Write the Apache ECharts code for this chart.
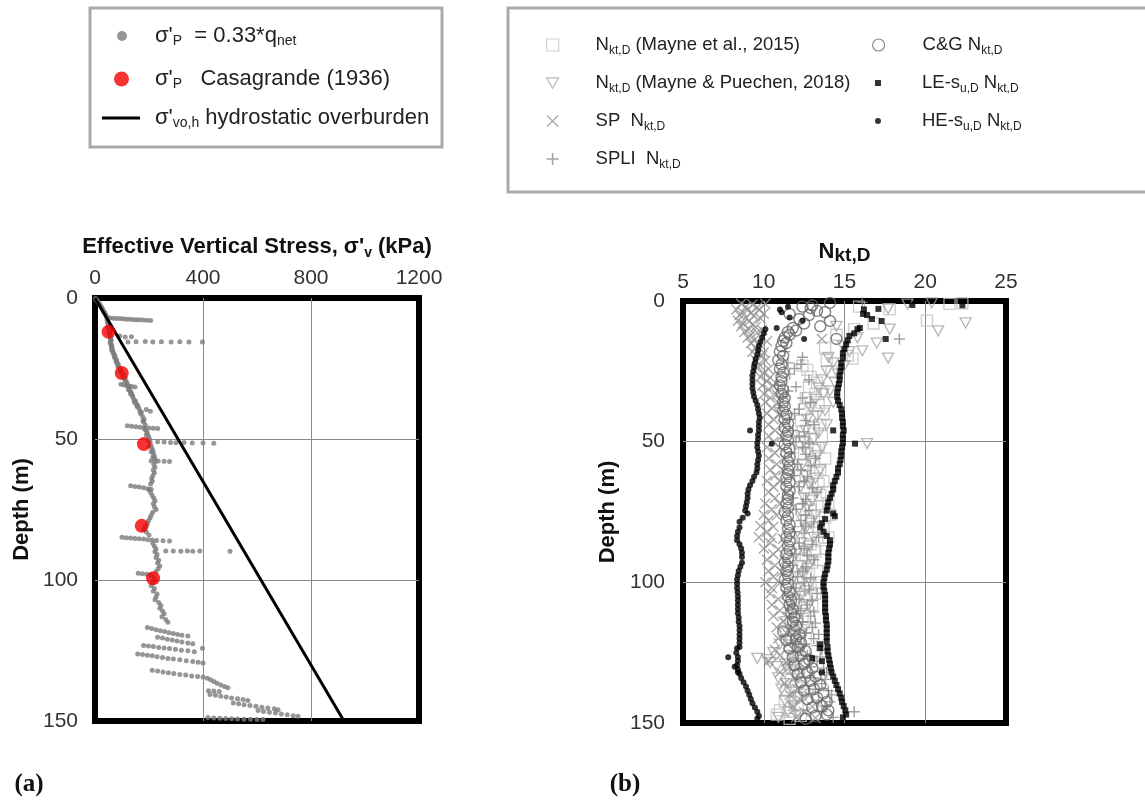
<!DOCTYPE html>
<html>
<head>
<meta charset="utf-8">
<title>Effective stress and N_kt,D profiles</title>
<script src="https://cdn.jsdelivr.net/npm/echarts@6/dist/echarts.min.js"></script>
<style>
  html, body { margin: 0; padding: 0; background: #fff; }
  #chart { width: 1145px; height: 803px; }
</style>
</head>
<body>
<div id="chart"></div>
<script>
// ---------- panel (a): effective vertical stress (kPa) vs depth (m) ----------
const stressTicks = [0, 400, 800, 1200];
const depthTicks = [0, 50, 100, 150];

// sigma'_p from 0.33*q_net : [stress kPa, depth m]
const sigmaNet = [
  [2,0.2],[5,0.6],[9,1],[12,1.5],[16,2],[19,2.5],[22,3],[25,3.5],[28,4],[31,4.5],[34,5],[37,5.5],[40,6],[42,6.5],[44,7],
  [55,7.1],[68,7.2],[80,7.3],[92,7.3],[104,7.4],[116,7.5],[128,7.5],[140,7.6],[152,7.7],[164,7.7],[178,7.8],[192,7.9],[206,8.0],
  [45,8],[47,8.5],[48,9],[50,9.5],[51,10],[49,10.5],[52,11],[54,11.5],[55,12],[53,12.5],[56,13],
  [92,13.5],[112,13.8],[135,13.7],[122,15.6],[152,15.5],[186,15.4],[214,15.6],[246,15.5],[282,15.6],[314,15.5],[348,15.6],[398,15.6],
  [58,14],[57,14.5],[60,15],[58,15.5],[56,16],[60,16.5],[62,17],[61,17.5],[64,18],[62,18.5],[66,19],[68,19.5],[70,20],[74,20.5],
  [72,21],[76,21.5],[80,22],[78,22.5],[82,23],[86,23.5],[84,24],[88,24.5],[92,25],[96,25.5],[94,26],[100,26.5],[104,27],[102,27.5],
  [108,28],[112,28.5],[110,29],[114,29.5],[118,30],
  [96,30.6],[106,30.8],[116,31],[126,31.2],[136,31.4],[148,31.6],
  [122,31],[126,32],[124,32.5],[130,33],[134,33.5],[132,34],[138,34.5],[140,35],[144,36],[150,36.5],[146,37],[152,37.5],[158,38],
  [156,38.5],[162,39],[166,40],[172,40.5],[168,41],[176,42],[182,43],[178,43.5],[190,39.5],[205,40.2],
  [120,45.3],[136,45.5],[152,45.7],[168,45.8],[184,46],[200,46.1],[216,46.2],[232,46.3],
  [180,44],[186,45],[184,46.5],[190,47],[194,48],[190,48.5],[198,49],[202,50],[196,50.5],
  [232,51],[256,51.1],[280,51.2],[300,51.3],[330,51.2],[360,51.4],[400,51.4],[440,51.5],
  [204,51],[206,52],[200,52.5],[210,53],[214,54],[208,54.5],[216,55],[220,56],[214,56.5],[222,57],[208,57.8],[234,57.8],[256,57.9],[276,58],
  [224,58],[218,59],[222,60],[216,61],[220,62],[214,63],[210,64],[212,65],[206,66],
  [132,66.6],[148,66.8],[164,67],[180,67.3],[196,67.6],[208,67.8],
  [200,68],[206,69],[212,70],[218,71],[222,72],[216,73],[220,74],[226,75],[214,76],[208,77],[204,78],[198,79],[194,80],[186,81],[180,82],[190,83],[200,84],
  [100,84.8],[116,85],[132,85.1],[148,85.3],[164,85.4],[180,85.5],[196,85.7],[212,85.8],[228,86],[252,86.1],[276,86.2],
  [262,89.7],[290,89.7],[318,89.8],[342,89.7],[362,89.8],[388,89.7],[500,89.8],
  [214,87],[220,88],[226,89],[222,90],[230,91],[226,92],[236,93],[232,94],[240,95],[234,96],[226,97],
  [160,97.6],[176,97.8],[192,98],[206,98.3],
  [218,99],[222,100],[214,101],[208,102],[220,103],[216,104],[230,105],[226,106],[222,107],[236,108],[244,109],[240,110],[250,111],[256,112],[248,113],[262,114],[270,115],
  [194,116.8],[210,117.2],[226,117.6],[242,118],[258,118.3],[274,118.7],[290,119],[306,119.3],[322,119.6],[344,119.9],
  [232,120.3],[250,120.6],[268,121],[286,121.3],[304,121.6],[322,122],[344,122.3],[362,122.6],
  [180,123.2],[198,123.4],[216,123.6],[236,123.9],[256,124.1],[276,124.3],[298,124.6],[320,124.9],[344,125.1],[368,125.4],[398,124.2],
  [158,126.2],[176,126.4],[194,126.7],[212,126.9],[230,127.2],[250,127.5],[270,127.8],[290,128],[314,128.3],[338,128.6],[362,128.9],[382,129.2],[400,129.4],
  [212,132],[232,132.3],[252,132.6],[272,132.9],[292,133.2],[314,133.5],[336,133.7],[358,134],[380,134.2],[400,134.4],
  [416,134.8],[428,135.4],[440,136],[452,136.6],[466,137.2],[480,137.8],[492,138.2],
  [420,139.3],[440,139.4],[460,139.5],
  [426,140.6],[446,140.9],[466,141.2],[486,141.5],[506,141.8],[528,142.1],[548,142.4],[566,142.7],
  [512,143.6],[532,143.9],[552,144.2],[574,144.5],[596,144.8],[618,145.1],[640,145.4],[664,145.7],[678,146],
  [604,146.3],[624,146.6],[646,146.9],[668,147.2],[690,147.5],[712,147.8],[734,148.1],[752,148.3],
  [418,148.8],[440,148.9],[462,149],[484,149.1],[506,149.2],[528,149.3],[552,149.4],[576,149.4],[600,149.5],[622,149.5]
];

// sigma'_p from Casagrande (1936) oedometer interpretation
const sigmaCasagrande = [[50,12],[99,26.6],[181,51.8],[173,80.8],[215,99.4]];

// hydrostatic effective overburden
const hydrostatic = [[0,0],[922,150]];

// ---------- panel (b): N_kt,D vs depth ----------
const nktTicks = [5, 10, 15, 20, 25];

const nktMayne2015 = [
  [21.5,1],[22.3,0.8],[15.9,2],[17.8,3],[20.1,7],[16.8,8],[15.6,10],[14.5,12],[13.8,16.7],[15.2,19.5],[15.5,20.5],[12.4,23],
  [12.7,24.5],[12.9,27],[13.3,29],[12.8,30.5],[13.2,33],[12.6,34.5],[13.4,37],[12.5,38.5],[13.0,41],[12.3,42.5],[13.1,45],
  [12.4,46.5],[12.9,49],[12.2,50.5],[13.2,53],[12.5,54.5],[13.1,57],[12.4,58.5],[13.3,61],[12.6,62.5],[13.4,65],[12.5,66.5],
  [13.5,69],[12.8,70.5],[13.6,73],[12.9,74.5],[13.8,77],[13.3,78.5],[13.4,81],[12.7,82.5],[13.6,85],[12.9,86.5],[13.2,89],
  [12.6,90.5],[13.0,93],[12.4,94.5],[12.8,97],[12.3,98.5],[12.9,101],[12.2,102.5],[12.6,105],[12.0,106.5],[12.5,109],
  [11.9,110.5],[12.4,113],[11.7,114.5],[12.3,117],[11.8,118.5],[12.2,121],[11.6,122.5],[12.1,125],[11.5,126.5],[12.0,129],
  [11.6,130.5],[12.2,133],[11.7,134.5],[12.0,137],[11.4,138.5],[11.9,141],[11.3,142.5],[11.0,145.5],[11.6,146],[12.3,147.5],[11.6,148.5],
  [13.9,21],[14.2,25],[13.6,32],[12.9,36],[13.7,40],[13.5,44],[13.6,48],[13.4,52],[13.8,56],[13.5,60],[13.7,64],[13.9,68],
  [14.0,72],[14.1,76],[13.7,80],[14.0,84],[13.8,88],[13.5,92],[13.3,96],[13.4,100],[13.2,104],[13.0,108],[12.8,112],[12.7,116],
  [12.6,120],[12.5,124],[12.4,128],[12.5,132],[12.4,136],[12.3,140],[12.1,144],[10.8,147]
];

const nktMaynePuechen2018 = [
  [17.7,2.8],[18.9,1.1],[20.4,0.7],[22.5,7.8],[20.8,10.6],[17.8,10],[17.0,15],[16.1,17.7],[17.7,20.3],[15.8,13.1],[16.4,50.7],
  [14.5,9],[14.9,16],[14.3,22],[13.9,25],[14.6,26],[13.6,28],[13.4,31],[14.1,32],[13.2,35],[12.9,38],[13.8,39],[12.7,42],
  [12.6,46],[13.4,47],[12.5,50],[12.7,54],[13.3,55],[12.4,58],[12.6,62],[13.2,63],[12.3,66],[12.5,70],[13.0,71],[12.2,74],
  [12.4,78],[12.9,79],[12.1,82],[12.3,86],[12.8,87],[12.0,90],[12.2,94],[12.7,95],[11.9,98],[12.1,102],[12.6,103],[11.8,106],
  [11.6,110],[12.3,111],[11.4,114],[11.2,118],[12.0,119],[11.0,122],[10.6,125],[11.7,126],[9.6,127],[10.2,127.5],[10.8,130],
  [11.5,131],[10.9,134],[11.1,138],[11.8,139],[11.3,142],[11.5,146],[12.2,147],
  [15.3,18],[14.0,20],[15.0,23],[14.4,29],[13.7,33],[14.3,36],[13.3,41],[13.9,44],[13.1,49],[13.6,52],[13.0,57],[13.5,60],
  [12.8,65],[13.3,68],[12.7,73],[13.2,76],[12.6,81],[13.1,84],[12.5,89],[13.0,92],[12.4,97],[12.9,100],[12.3,105],[12.8,108],
  [12.0,113],[12.6,116],[11.6,121],[12.3,124],[10.4,128.5],[11.3,129],[11.9,133],[11.4,136],[12.1,141],[11.8,144],[10.9,148]
];

const nktSP = [
  [8.6,1],[9.3,1.2],[10.1,1],[8.3,3],[9.0,3.2],[9.7,3],[8.5,5],[9.4,5.2],[8.4,7],[9.1,7.2],[8.6,9],[9.5,9.2],[8.8,11],[9.6,11.2],
  [9.0,13],[13.6,13.5],[9.2,15],[9.7,15.2],[9.3,18],[10.0,18.2],[9.5,21],[10.1,21.2],[9.6,24],[10.3,24.2],[9.8,27],[10.4,27.2],
  [9.9,30],[10.6,30.2],[10.0,33],[10.8,33.2],[10.1,36],[10.9,36.2],[10.2,40],[11.0,40.2],[10.3,44],[11.2,44.2],[10.3,48],[11.1,48.2],
  [10.2,52],[11.0,52.2],[10.3,56],[11.3,56.2],[10.4,60],[11.2,60.2],[10.2,64],[11.0,64.2],[10.3,68],[11.4,68.2],[10.1,72],[11.0,72.2],
  [10.0,76],[10.8,76.2],[9.8,80],[10.6,80.2],[9.7,84],[10.5,84.2],[11.2,84.5],[10.0,88],[10.9,88.2],[10.2,92],[11.3,92.2],[10.3,96],
  [11.1,96.2],[10.1,100],[11.0,100.2],[10.4,104],[11.4,104.2],[10.5,108],[11.6,108.2],[10.6,112],[11.5,112.2],[10.8,116],[11.8,116.2],
  [10.9,120],[12.0,120.2],[10.7,124],[11.9,124.2],[10.3,128],[11.4,128.2],[12.2,128.4],[11.0,132],[12.3,132.2],[11.3,136],[12.6,136.2],
  [11.6,140],[12.8,140.2],[11.8,144],[13.0,144.2],[12.0,148],[13.2,148.2],
  [8.9,2],[9.6,2.2],[8.7,4],[9.2,4.3],[10.0,4.5],[8.9,6],[9.8,6.2],[8.7,8],[9.3,8.3],[9.1,10],[9.9,10.3],[9.2,12],[9.4,14],
  [10.2,14.3],[9.5,16.5],[9.9,19.5],[9.7,22.5],[10.0,25.5],[10.2,28.5],[10.3,31.5],[10.4,34.5],[10.5,38],[10.6,42],[10.7,46],
  [10.6,50],[10.7,54],[10.8,58],[10.7,62],[10.6,66],[10.7,70],[10.5,74],[10.3,78],[10.2,82],[10.4,86],[10.6,90],[10.7,94],
  [10.6,98],[10.5,102],[10.9,106],[11.0,110],[11.2,114],[11.4,118],[11.5,122],[11.0,126],[11.6,130],[11.9,134],[12.1,138],
  [12.3,142],[12.5,146]
];

const nktSPLI = [
  [16.1,0.5],[18.4,13.5],[11.3,18],[11.5,22],[12.3,22.5],[11.6,26],[10.9,30],[12.0,30.5],[11.2,34],[12.4,34.5],[11.0,38],[12.2,38.5],
  [11.6,42],[12.6,42.5],[11.8,46],[12.5,46.5],[12.0,50],[12.8,50.5],[11.7,54],[12.6,54.5],[12.1,58],[12.9,58.5],[11.9,62],[12.7,62.5],
  [12.2,66],[13.0,66.5],[11.8,70],[12.6,70.5],[12.0,74],[12.8,74.5],[12.3,78],[13.1,78.5],[11.9,82],[12.5,82.5],[12.2,86],[13.0,86.5],
  [12.0,90],[12.7,90.5],[11.8,94],[12.6,94.5],[12.1,98],[12.9,98.5],[12.0,102],[12.8,102.5],[12.2,106],[13.0,106.5],[12.3,110],
  [13.1,110.5],[12.4,114],[13.2,114.5],[12.6,118],[13.4,118.5],[12.5,122],[13.3,122.5],[12.7,126],[13.5,126.5],[12.9,130],[13.7,130.5],
  [13.1,134],[13.8,134.5],[13.2,138],[14.0,138.5],[13.4,142],[14.1,142.5],[13.6,146],[15.6,146],[14.3,148],
  [12.4,20],[11.9,24],[12.8,28],[11.5,32],[12.9,36],[11.9,40],[13.1,44],[12.2,48],[12.4,52],[13.2,56],[12.3,60],[12.5,64],
  [13.3,68],[12.4,72],[12.6,76],[12.6,80],[13.4,84],[12.5,88],[13.1,92],[12.4,96],[12.5,100],[13.3,104],[12.7,108],[12.9,112],
  [13.0,116],[13.1,120],[13.6,124],[13.3,128],[13.9,132],[13.6,136],[14.2,140],[13.8,144]
];

const nktCG = [
  [14.1,0.7],[13.0,1.5],[12.4,2],[13.3,3.5],[11.6,4.6],[12.8,5],[12.2,6.4],[14.1,7.1],[11.8,9.6],[11.5,11],[11.3,13],[14.5,13.5],
  [11.2,14.2],[11.1,16],[11.0,18],[10.9,21],[11.0,24],[11.1,27],[11.0,30],[11.1,33],[11.2,36],[11.2,39],[11.3,42],[11.3,45],[11.4,48],
  [11.3,51],[11.4,54],[11.5,57],[11.5,60],[11.4,63],[11.4,66],[11.5,69],[11.4,72],[11.3,75],[11.4,78],[11.5,81],[11.4,84],[11.5,87],
  [11.4,90],[11.3,93],[11.4,96],[11.3,99],[11.4,102],[11.5,105],[11.6,108],[11.7,111],[11.8,114],[11.9,117],[11.2,117.5],[12.0,120],
  [11.4,120.5],[12.1,123],[11.6,123.5],[12.3,126],[11.8,126.5],[12.5,129],[11.9,129.5],[12.7,132],[12.1,132.5],[12.9,135],[12.3,135.5],
  [13.1,138],[12.5,138.5],[13.3,141],[12.7,141.5],[13.6,144],[13.0,144.5],[13.9,147],[13.2,147.5],
  [12.9,2.5],[13.8,4],[12.5,8],[13.5,9],[12.0,10.5],[11.6,12],[11.4,15],[11.2,19.5],[11.1,22.5],[11.2,25.5],[11.1,28.5],[11.2,31.5],
  [11.3,34.5],[11.3,37.5],[11.4,40.5],[11.5,43.5],[11.5,46.5],[11.5,49.5],[11.6,52.5],[11.6,55.5],[11.6,58.5],[11.5,61.5],[11.6,64.5],
  [11.6,67.5],[11.5,70.5],[11.5,73.5],[11.5,76.5],[11.6,79.5],[11.6,82.5],[11.6,85.5],[11.6,88.5],[11.5,91.5],[11.5,94.5],[11.5,97.5],
  [11.5,100.5],[11.6,103.5],[11.7,106.5],[11.8,109.5],[11.9,112.5],[12.0,115.5],[12.2,118.5],[12.3,121.5],[12.6,124.5],[12.8,127.5],
  [13.0,130.5],[13.2,133.5],[13.5,136.5],[13.7,139.5],[13.9,142.5],[14.0,145.5],[12.6,148.5]
];

// N_kt,D from the lower-estimate s_u,D profile
const nktLE = [
  [19.2,1.4],[22.3,1.5],[17.1,2.8],[16.2,3],[16.15,4.6],[16.4,5],[16.7,6.4],[17.3,7.1],[15.95,9.6],[17.55,13.5],
  [15.8,10],[15.6,11.5],[15.3,12.4],[15.2,14],[15.1,15.5],[15.0,17],[14.9,18.5],[14.9,20.2],[14.8,22],[14.8,23.5],[14.75,25],
  [14.7,26.5],[14.7,28],[14.65,29.5],[14.6,31],[14.55,32.5],[14.55,34],[14.6,35.5],[14.7,37],[14.8,38.5],[14.85,40],[14.85,41.5],
  [14.9,43],[14.9,44.5],[14.3,46],[14.95,46],[14.9,47.5],[14.9,49],[14.9,50.5],[15.65,50.7],[14.85,52],[14.8,53.5],[14.8,55],
  [14.75,56.5],[14.7,58],[14.6,59.5],[14.6,61],[14.5,62.5],[14.4,64],[14.3,65.5],[14.3,67],[14.2,68.5],[14.1,70],[14.0,71.5],
  [13.95,73],[13.9,74.5],[14.3,75.5],[14.4,76.5],[13.8,77.5],[13.6,79],[13.5,80.5],[13.7,82],[13.9,83.5],[14.1,85],[14.1,86.5],
  [14.05,88],[14.0,89.5],[14.0,91],[14.0,92.5],[13.95,94],[13.9,95.5],[13.8,97],[13.75,98.5],[13.7,100],[13.7,101.5],[13.75,103],
  [13.8,104.5],[13.8,106],[13.8,107.5],[13.8,109],[13.8,110.5],[13.85,112],[13.85,113.5],[13.9,115],[13.9,116.5],[13.9,118],
  [13.9,119.5],[13.9,121],[13.5,122],[13.5,123.4],[13.95,123],[13.95,124.5],[14.0,126],[13.0,127],[14.05,127.5],[13.6,128],
  [14.1,129],[14.15,130.5],[14.2,132],[13.6,132],[14.3,133.5],[14.4,135],[14.5,136.5],[14.6,138],[14.7,139.5],[14.8,141],
  [14.85,142.5],[14.95,144],[15.05,145.5],[15.1,147],[14.9,148]
];

// N_kt,D from the higher-estimate s_u,D profile
const nktHE = [
  [11.5,2],[11.0,3],[11.1,4],[11.6,5.9],[12.4,7],[10.8,9.6],[12.5,13.5],
  [10.1,10],[10.0,11.5],[9.9,13],[9.8,14.5],[9.7,16],[9.65,17.5],[9.6,19],[9.5,20.5],[9.45,22],[9.4,23.5],[9.35,25],[9.3,26.5],
  [9.3,28],[9.3,29.5],[9.3,31],[9.35,32.5],[9.4,34],[9.5,35.5],[9.6,37],[9.65,38.5],[9.7,40],[9.75,41.5],[9.7,43],[9.7,44.5],
  [9.15,46],[9.7,46],[9.65,47.5],[9.65,49],[9.6,50.5],[10.5,50.7],[9.6,52],[9.65,53.5],[9.7,55],[9.65,56.5],[9.6,58],[9.6,59.5],
  [9.55,61],[9.4,62.5],[9.3,64],[9.15,65.5],[9.05,67],[9.0,68.5],[9.0,70],[8.95,71.5],[8.9,73],[8.85,74.5],[9.0,75.5],[8.7,77],
  [8.5,78.5],[8.5,80.5],[8.4,82],[8.35,83.5],[8.35,85],[8.5,86.5],[8.6,88],[8.65,89.5],[8.65,91],[8.65,93],[8.55,94.5],[8.45,96],
  [8.4,97.5],[8.35,99],[8.35,100.5],[8.35,102],[8.38,103.5],[8.4,105],[8.4,106.5],[8.4,108],[8.4,109.5],[8.4,111],[8.45,112.5],
  [8.45,114],[8.5,115.5],[8.5,117],[8.5,118.5],[8.5,120],[8.5,121.5],[8.5,123],[8.35,123.4],[8.3,125],[8.4,126.5],[7.8,126.6],
  [8.4,128],[8.35,129.5],[8.2,130],[8.4,131],[8.4,132],[8.5,132.5],[8.6,134],[8.75,135.5],[8.9,137],[9.0,138.5],[9.1,140],
  [9.2,141.5],[9.3,143],[9.45,144.5],[9.6,146],[9.7,147.5],[9.6,148.5]
];

// ---------- shared styling ----------
const FONT = '"Liberation Sans", Arial, Helvetica, sans-serif';
const crossPath = 'path://M0.9,0L5,4.1L9.1,0L10,0.9L5.9,5L10,9.1L9.1,10L5,5.9L0.9,10L0,9.1L4.1,5L0,0.9Z';
const plusPath = 'path://M4.35,0H5.65V4.35H10V5.65H5.65V10H4.35V5.65H0V4.35H4.35Z';
const downTriangle = 'path://M0,0L10,0L5,8.66Z';

const legendLabels = {
  sigmaNet: "σ'{s|P}  = 0.33*q{s|net}",
  sigmaCas: "σ'{s|P}   Casagrande (1936)",
  hydro: "σ'{s|vo,h} hydrostatic overburden",
  mayne2015: "N{s|kt,D} (Mayne et al., 2015)",
  mp2018: "N{s|kt,D} (Mayne & Puechen, 2018)",
  sp: "SP  N{s|kt,D}",
  spli: "SPLI  N{s|kt,D}",
  cg: "C&G N{s|kt,D}",
  le: "LE-s{s|u,D} N{s|kt,D}",
  he: "HE-s{s|u,D} N{s|kt,D}"
};

function legendText(size, subSize, padLeft) {
  return {
    fontFamily: FONT, fontSize: size, color: '#222', lineHeight: 24,
    padding: [0, 0, 0, padLeft],
    rich: { s: { fontFamily: FONT, fontSize: subSize, color: '#222', verticalAlign: 'bottom' } }
  };
}
function makeLegend(extra) {
  return Object.assign({
    show: true, orient: 'vertical', padding: 0, selectedMode: false,
    formatter: name => legendLabels[name]
  }, extra);
}

const axisLabelStyle = { fontFamily: FONT, fontSize: 21, color: '#333', formatter: v => String(v) };
const splitStyle = { show: true, showMinLine: false, showMaxLine: false, lineStyle: { color: '#8a8a8a', width: 1 } };
const gridBox = { show: true, borderColor: '#000', borderWidth: 6, backgroundColor: 'transparent', containLabel: false, outerBoundsMode: 'none' };

function valueAxis(extra) {
  return Object.assign({
    type: 'value',
    axisLine: { show: false }, axisTick: { show: false },
    splitLine: splitStyle,
    nameMoveOverlap: false
  }, extra);
}

const option = {
  backgroundColor: '#fff',
  animation: false,
  grid: [
    Object.assign({ left: 95, top: 298, width: 324, height: 423 }, gridBox),
    Object.assign({ left: 683, top: 301, width: 323, height: 422 }, gridBox)
  ],
  xAxis: [
    valueAxis({
      gridIndex: 0, position: 'top', min: stressTicks[0], max: stressTicks[stressTicks.length - 1], interval: stressTicks[1] - stressTicks[0],
      axisLabel: Object.assign({ margin: 9 }, axisLabelStyle),
      name: "Effective Vertical Stress, σ'{s|v} (kPa)", nameLocation: 'middle', nameGap: 38,
      nameTextStyle: {
        fontFamily: FONT, fontSize: 22, fontWeight: 'bold', color: '#111', lineHeight: 26,
        rich: { s: { fontFamily: FONT, fontSize: 14, fontWeight: 'bold', color: '#111', verticalAlign: 'bottom' } }
      }
    }),
    valueAxis({
      gridIndex: 1, position: 'top', min: nktTicks[0], max: nktTicks[nktTicks.length - 1], interval: nktTicks[1] - nktTicks[0],
      axisLabel: Object.assign({ margin: 8 }, axisLabelStyle),
      name: '{n|N}{k|kt,D}', nameLocation: 'middle', nameGap: 36,
      nameTextStyle: {
        rich: {
          n: { fontFamily: FONT, fontSize: 22, fontWeight: 'bold', color: '#111', lineHeight: 26 },
          k: { fontFamily: FONT, fontSize: 19, fontWeight: 'bold', color: '#111', verticalAlign: 'bottom' }
        }
      }
    })
  ],
  yAxis: [
    valueAxis({
      gridIndex: 0, inverse: true, min: depthTicks[0], max: depthTicks[depthTicks.length - 1], interval: depthTicks[1] - depthTicks[0],
      axisLabel: Object.assign({ margin: 17 }, axisLabelStyle),
      name: 'Depth (m)', nameLocation: 'middle', nameRotate: 90, nameGap: 62,
      nameTextStyle: { fontFamily: FONT, fontSize: 22, fontWeight: 'bold', color: '#111' }
    }),
    valueAxis({
      gridIndex: 1, inverse: true, min: depthTicks[0], max: depthTicks[depthTicks.length - 1], interval: depthTicks[1] - depthTicks[0],
      axisLabel: Object.assign({ margin: 18 }, axisLabelStyle),
      name: 'Depth (m)', nameLocation: 'middle', nameRotate: 90, nameGap: 64,
      nameTextStyle: { fontFamily: FONT, fontSize: 22, fontWeight: 'bold', color: '#111' }
    })
  ],
  legend: [
    makeLegend({ left: 117, top: 24, itemWidth: 10, itemHeight: 10, data: ['sigmaNet'], textStyle: legendText(22, 14, 23) }),
    makeLegend({ left: 114, top: 67, itemWidth: 15, itemHeight: 15, data: ['sigmaCas'], textStyle: legendText(22, 14, 21) }),
    makeLegend({ left: 102, top: 106, itemWidth: 38, itemHeight: 3,
      data: [{ name: 'hydro', icon: 'rect', itemStyle: { color: '#000', borderWidth: 0 } }], textStyle: legendText(22, 14, 10) }),
    makeLegend({
      left: 546, top: 33, itemWidth: 12, itemHeight: 12, itemGap: 14,
      data: [
        { name: 'mayne2015', icon: 'rect', itemStyle: { color: 'transparent', borderColor: '#c4c4c4', borderWidth: 1.2 } },
        { name: 'mp2018', icon: downTriangle, itemStyle: { color: 'transparent', borderColor: '#a8a8a8', borderWidth: 1.2 } },
        { name: 'sp', icon: crossPath, itemStyle: { color: '#9a9a9a', borderWidth: 0 } },
        { name: 'spli', icon: plusPath, itemStyle: { color: '#8c8c8c', borderWidth: 0 } }
      ],
      textStyle: legendText(18.5, 12, 32)
    }),
    makeLegend({
      left: 872, top: 33, itemWidth: 12, itemHeight: 12,
      data: [{ name: 'cg', icon: 'circle', itemStyle: { color: 'transparent', borderColor: '#737373', borderWidth: 1.2 } }],
      textStyle: legendText(18.5, 12, 33)
    }),
    makeLegend({
      left: 875, top: 71, itemWidth: 6, itemHeight: 6, itemGap: 14,
      data: ['le', 'he'],
      textStyle: legendText(18.5, 12, 36)
    })
  ],
  series: [
    { name: 'sigmaNet', type: 'scatter', xAxisIndex: 0, yAxisIndex: 0, data: sigmaNet, symbol: 'circle', symbolSize: 5,
      itemStyle: { color: '#7c7c7c' }, clip: false, z: 2 },
    { name: 'hydro', type: 'line', xAxisIndex: 0, yAxisIndex: 0, data: hydrostatic, symbol: 'none', showSymbol: false,
      lineStyle: { color: '#000', width: 3 }, itemStyle: { color: '#000' }, z: 3 },
    { name: 'sigmaCas', type: 'scatter', xAxisIndex: 0, yAxisIndex: 0, data: sigmaCasagrande, symbol: 'circle', symbolSize: 14,
      itemStyle: { color: '#f50000' }, clip: false, z: 4 },

    { name: 'mayne2015', type: 'scatter', xAxisIndex: 1, yAxisIndex: 1, data: nktMayne2015, symbol: 'rect', symbolSize: 11,
      itemStyle: { color: 'transparent', borderColor: '#c0c0c0', borderWidth: 1.3 }, clip: false, z: 2 },
    { name: 'mp2018', type: 'scatter', xAxisIndex: 1, yAxisIndex: 1, data: nktMaynePuechen2018, symbol: downTriangle, symbolSize: [11, 10],
      itemStyle: { color: 'transparent', borderColor: '#a4a4a4', borderWidth: 1.3 }, clip: false, z: 2 },
    { name: 'sp', type: 'scatter', xAxisIndex: 1, yAxisIndex: 1, data: nktSP, symbol: crossPath, symbolSize: 11,
      itemStyle: { color: '#929292' }, clip: false, z: 2 },
    { name: 'spli', type: 'scatter', xAxisIndex: 1, yAxisIndex: 1, data: nktSPLI, symbol: plusPath, symbolSize: 11,
      itemStyle: { color: '#888888' }, clip: false, z: 2 },
    { name: 'cg', type: 'scatter', xAxisIndex: 1, yAxisIndex: 1, data: nktCG, symbol: 'circle', symbolSize: 11,
      itemStyle: { color: 'transparent', borderColor: '#666666', borderWidth: 1.4 }, clip: false, z: 2 },
    { name: 'le', type: 'scatter', xAxisIndex: 1, yAxisIndex: 1, data: nktLE, symbol: 'rect', symbolSize: 6,
      itemStyle: { color: '#000' }, clip: false, z: 3 },
    { name: 'he', type: 'scatter', xAxisIndex: 1, yAxisIndex: 1, data: nktHE, symbol: 'circle', symbolSize: 6,
      itemStyle: { color: '#000' }, clip: false, z: 3 }
  ],
  graphic: [
    { type: 'rect', shape: { x: 90, y: 8, width: 352, height: 139 }, style: { fill: 'none', stroke: '#a9a9a9', lineWidth: 3 }, z: -1 },
    { type: 'rect', shape: { x: 508, y: 8, width: 700, height: 184 }, style: { fill: 'none', stroke: '#a9a9a9', lineWidth: 3 }, z: -1 },
    { type: 'text', x: 29, y: 785, style: { text: '(a)', font: 'bold 25px "Liberation Serif", "Times New Roman", serif', fill: '#111',
      align: 'center', verticalAlign: 'middle', textAlign: 'center', textVerticalAlign: 'middle' } },
    { type: 'text', x: 625, y: 785, style: { text: '(b)', font: 'bold 25px "Liberation Serif", "Times New Roman", serif', fill: '#111',
      align: 'center', verticalAlign: 'middle', textAlign: 'center', textVerticalAlign: 'middle' } }
  ]
};

const chart = echarts.init(document.getElementById('chart'), null, { renderer: 'canvas' });
chart.setOption(option);
</script>
</body>
</html>
